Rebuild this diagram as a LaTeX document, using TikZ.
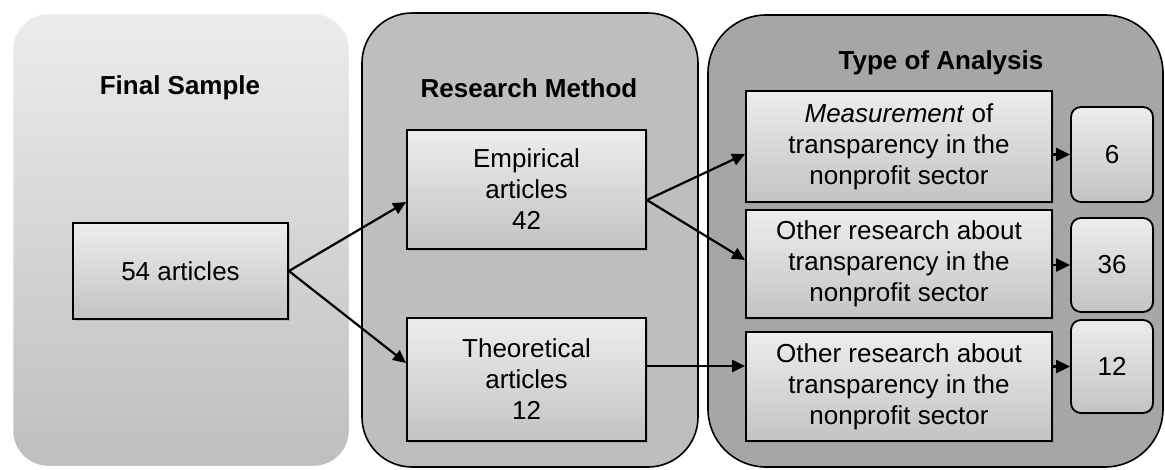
\documentclass[tikz,border=0pt]{standalone}
\usepackage{fontspec}
\setmainfont{Liberation Sans}
\usetikzlibrary{arrows.meta,calc,shadows}
\definecolor{boxtop}{HTML}{EDEDED}
\definecolor{boxbot}{HTML}{C3C3C3}
\definecolor{ponetop}{HTML}{ECECEC}
\definecolor{ponebot}{HTML}{BEBEBE}
\definecolor{ptwo}{HTML}{BEBEBE}
\definecolor{pthree}{HTML}{A6A6A6}
\tikzset{
  box/.style={draw=black, line width=1.8pt, rectangle, top color=boxtop, bottom color=boxbot,
    align=center, inner sep=2pt, font=\fontsize{26}{31}\selectfont,
    drop shadow={shadow xshift=1.5pt, shadow yshift=-1.5pt, opacity=0.35}},
  numbox/.style={box, rounded corners=10pt},
  ttl/.style={font=\fontsize{26}{31}\selectfont\bfseries, align=center},
  arr/.style={line width=2.2pt, -{Triangle[length=13pt,width=12pt]}},
  sarr/.style={line width=2.2pt, -{Triangle[length=14pt,width=13pt]}},
}
\begin{document}
\begin{tikzpicture}[x=1pt,y=-1pt]
\useasboundingbox (0,0) rectangle (1165,469);
% panels
\path[top color=ponetop, bottom color=ponebot, draw=white, line width=2.5pt, rounded corners=36pt]
  (12,13) rectangle (350,467);
\path[fill=ptwo, draw=black, line width=1.6pt, rounded corners=50pt]
  (362,13) rectangle (698,467);
\path[fill=pthree, draw=black, line width=1.6pt, rounded corners=58pt]
  (708,15) rectangle (1163,467);
% titles
\node[ttl] (h1) at (180,88) {Final Sample};
\node[ttl] (h2) at (529,88) {Research Method};
\node[ttl] (h3) at (941,63) {Type of Analysis};
% boxes
\node[box, minimum width=215pt, minimum height=96pt] (fs) at (180.5,271) {54 articles};
\node[box, minimum width=239pt, minimum height=119pt] (emp) at (526.5,189.5) {Empirical\\articles\\42};
\node[box, minimum width=239pt, minimum height=123pt] (theo) at (526.5,379.5) {Theoretical\\articles\\12};
\node[box, minimum width=306pt, minimum height=111pt] (t1) at (899,146.5) {\textit{Measurement} of\\transparency in the\\nonprofit sector};
\node[box, minimum width=306pt, minimum height=108pt] (t2) at (899,264) {Other research about\\transparency in the\\nonprofit sector};
\node[box, minimum width=306pt, minimum height=109pt] (t3) at (899,386.5) {Other research about\\transparency in the\\nonprofit sector};
\node[numbox, minimum width=82pt, minimum height=95pt] (s1) at (1112,154.5) {6};
\node[numbox, minimum width=82pt, minimum height=94pt] (s2) at (1112,265) {36};
\node[numbox, minimum width=82pt, minimum height=93pt] (s3) at (1112,366.5) {12};
% connectors
\draw[arr] (fs.east) -- ($(emp.west)+(0,12.5)$);
\draw[arr] (fs.east) -- ($(theo.west)+(0,-16.5)$);
\draw[arr] ($(emp.east)+(0,10.5)$) -- ($(t1.west)+(0,7.5)$);
\draw[arr] ($(emp.east)+(0,10.5)$) -- ($(t2.west)+(0,-4)$);
\draw[arr] ($(theo.east)+(0,-13.5)$) -- ($(t3.west)+(0,-20.5)$);
\draw[sarr] (s1.west -| t1.east) -- (s1.west);
\draw[sarr] (s2.west -| t2.east) -- (s2.west);
\draw[sarr] (s3.west -| t3.east) -- (s3.west);
\end{tikzpicture}
\end{document}
